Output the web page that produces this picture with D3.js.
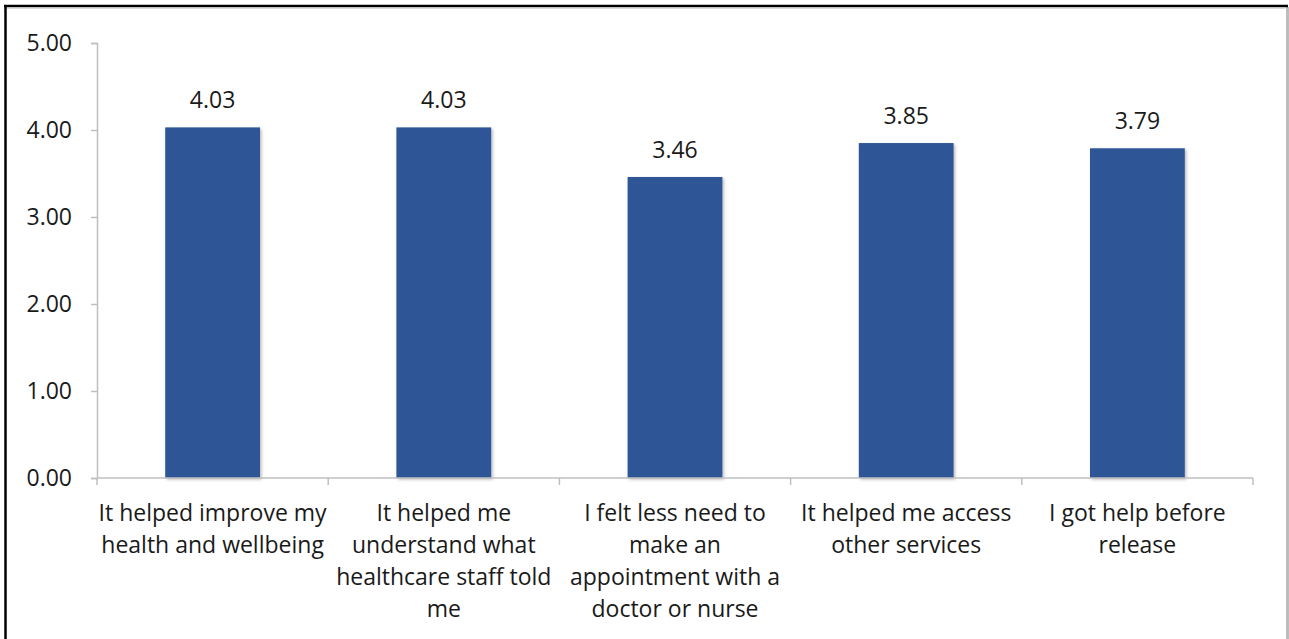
<!DOCTYPE html>
<html>
<head>
<meta charset="utf-8">
<script src="https://cdn.jsdelivr.net/npm/d3@7"></script>
<style>
  html, body { margin: 0; padding: 0; background: #fff; }
  svg { display: block; }
  text { font-family: "Open Sans", Lato, sans-serif; fill: #1a1a1a; }
</style>
</head>
<body>
<svg id="chart" width="1289" height="639"></svg>
<script>
// Mean agreement scores per statement
const categories = [
  "It helped improve my health and wellbeing",
  "It helped me understand what healthcare staff told me",
  "I felt less need to make an appointment with a doctor or nurse",
  "It helped me access other services",
  "I got help before release"
];
const values = [4.03, 4.03, 3.46, 3.85, 3.79];
// Category labels as they break across lines
const labelLines = [
  ["It helped improve my", "health and wellbeing"],
  ["It helped me", "understand what", "healthcare staff told", "me"],
  ["I felt less need to", "make an", "appointment with a", "doctor or nurse"],
  ["It helped me access", "other services"],
  ["I got help before", "release"]
];
const yTicks = [0, 1, 2, 3, 4, 5];

const svg = d3.select("#chart");
const W = 1289, H = 639;
const plot = { left: 97, right: 1253, top: 43, bottom: 478 };
const FS = 23;

// Frame around the chart area
svg.append("line").attr("x1", 7).attr("x2", 1285).attr("y1", 8.5).attr("y2", 8.5)
  .attr("stroke", "#d9d9d9").attr("stroke-width", 1);
svg.append("line").attr("x1", 1287.5).attr("x2", 1287.5).attr("y1", 7).attr("y2", H)
  .attr("stroke", "#bdbdbd").attr("stroke-width", 3);
svg.append("line").attr("x1", 4).attr("x2", 1288).attr("y1", 6).attr("y2", 6)
  .attr("stroke", "#000").attr("stroke-width", 2.5);
svg.append("line").attr("x1", 5.5).attr("x2", 5.5).attr("y1", 5).attr("y2", H)
  .attr("stroke", "#000").attr("stroke-width", 2.5);

const x = d3.scaleBand().domain(categories).range([plot.left, plot.right]).padding(0);
const y = d3.scaleLinear().domain([0, 5]).range([plot.bottom, plot.top]);

const defs = svg.append("defs");
const f = defs.append("filter").attr("id", "shadow")
  .attr("x", "-10%").attr("y", "-10%").attr("width", "130%").attr("height", "130%");
f.append("feDropShadow").attr("dx", 1.5).attr("dy", 1.5).attr("stdDeviation", 1.8)
  .attr("flood-color", "#000").attr("flood-opacity", 0.28);

// Y axis
const yAxis = svg.append("g").attr("transform", `translate(${plot.left},0)`)
  .call(d3.axisLeft(y).tickValues(yTicks).tickFormat(d3.format(".2f")).tickSize(6).tickPadding(19));
yAxis.select(".domain").attr("stroke", "#bfbfbf").attr("stroke-width", 1.5);
yAxis.selectAll(".tick line").attr("stroke", "#bfbfbf").attr("stroke-width", 1.5);
yAxis.selectAll(".tick text").attr("font-size", FS).attr("fill", "#1a1a1a")
  .style("font-family", "'Open Sans', Lato, sans-serif");

// Bars
const barW = x.bandwidth() * 0.41;
svg.append("g").selectAll("rect").data(categories).join("rect")
  .attr("x", (d) => x(d) + (x.bandwidth() - barW) / 2)
  .attr("y", (d, i) => y(values[i]))
  .attr("width", barW)
  .attr("height", (d, i) => y(0) - y(values[i]))
  .attr("fill", "#2f5596")
  .attr("filter", "url(#shadow)");

// X axis with category boundary ticks
const xAxisG = svg.append("g");
xAxisG.append("line").attr("x1", plot.left).attr("x2", plot.right)
  .attr("y1", plot.bottom).attr("y2", plot.bottom)
  .attr("stroke", "#bfbfbf").attr("stroke-width", 1.5);
const bounds = categories.map((d) => x(d)).concat([x(categories[categories.length - 1]) + x.bandwidth()]);
xAxisG.selectAll("line.b").data(bounds).join("line").attr("class", "b")
  .attr("x1", (d) => d).attr("x2", (d) => d)
  .attr("y1", plot.bottom).attr("y2", plot.bottom + 7)
  .attr("stroke", "#bfbfbf").attr("stroke-width", 1.5);

// Category labels
const lbl = svg.append("g").selectAll("text").data(categories).join("text")
  .attr("text-anchor", "middle").attr("font-size", FS);
lbl.each(function (d, i) {
  const t = d3.select(this);
  labelLines[i].forEach((ln, k) => {
    t.append("tspan").attr("x", x(d) + x.bandwidth() / 2)
      .attr("y", 521 + k * 32).text(ln);
  });
});

// Value labels
svg.append("g").selectAll("text").data(categories).join("text")
  .attr("text-anchor", "middle").attr("font-size", FS)
  .attr("x", (d) => x(d) + x.bandwidth() / 2)
  .attr("y", (d, i) => y(values[i]) - 19)
  .text((d, i) => d3.format(".2f")(values[i]));
</script>
</body>
</html>
